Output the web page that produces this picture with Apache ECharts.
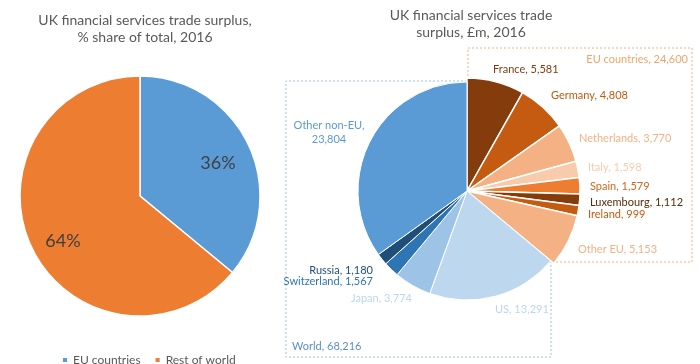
<!DOCTYPE html>
<html>
<head>
<meta charset="utf-8">
<script src="https://cdn.jsdelivr.net/npm/echarts@6/dist/echarts.min.js"></script>
<style>
html,body{margin:0;padding:0;background:#fff;}
#chart{width:700px;height:364px;}
</style>
</head>
<body>
<div id="chart"></div>
<script>
// ---- data ----
const leftCategories = ['EU countries', 'Rest of world'];
const leftShares = [36, 64];
const euCountries = ['France', 'Germany', 'Netherlands', 'Italy', 'Spain', 'Luxembourg', 'Ireland', 'Other EU'];
const euValues = [5581, 4808, 3770, 1598, 1579, 1112, 999, 5153];
const nonEuCountries = ['US', 'Japan', 'Switzerland', 'Russia', 'Other non-EU'];
const nonEuValues = [13291, 3774, 1567, 1180, 23804];
const leftTitle = 'UK financial services trade surplus,\n% share of total, 2016';
const rightTitle = 'UK financial services trade\nsurplus, £m, 2016';

// ---- styles ----
const FONT = 'Lato';
const leftColors = ['#5B9BD5', '#ED7D31'];
const euColors = ['#843C0C', '#C55A11', '#F4B183', '#F8CBAD', '#ED7D31', '#843C0C', '#C55A11', '#F4B183'];
const euLabelColors = ['#843C0C', '#C55A11', '#F4B183', '#F8CBAD', '#D0661C', '#5A2A0A', '#C55A11', '#F4B183'];
const nonEuColors = ['#BDD7EE', '#9DC3E6', '#2E75B6', '#1F4E79', '#5B9BD5'];
const nonEuLabelColors = ['#BDD7EE', '#BDD7EE', '#2E75B6', '#1F4E79', '#5B9BD5'];
// label anchor layout [x, y, align]
const leftLabelPos = [[218, 163], [63, 241]];
const euLabelPos = [[493, 69, 'left'], [551, 95, 'left'], [579, 138, 'left'], [588, 167, 'left'], [590, 186, 'left'], [590, 202, 'left'], [588, 214, 'left'], [578, 249, 'left']];
const nonEuLabelPos = [[495, 309, 'left'], [351, 298, 'left'], [373, 281, 'right'], [373, 270, 'right'], [329, 132, 'center']];

const fmt = v => v.toLocaleString('en-US');
const euTotal = euValues.reduce((a, b) => a + b, 0);
const nonEuTotal = nonEuValues.reduce((a, b) => a + b, 0);
const worldTotal = euTotal + nonEuTotal;

const chart = echarts.init(document.getElementById('chart'));

const hiddenItem = v => ({
  value: v, name: '__gap', itemStyle: { color: 'rgba(0,0,0,0)', borderWidth: 0 },
  label: { show: false }, labelLine: { show: false }, emphasis: { disabled: true }, tooltip: { show: false }
});

const euData = euCountries.map((n, i) => ({
  name: n, value: euValues[i], itemStyle: { color: euColors[i] },
  label: { color: euLabelColors[i] }
}));
euData.push(hiddenItem(nonEuTotal));

const nonEuData = [hiddenItem(euTotal)].concat(nonEuCountries.map((n, i) => ({
  name: n, value: nonEuValues[i], itemStyle: { color: nonEuColors[i] },
  label: { color: nonEuLabelColors[i] }
})));

const option = {
  animation: false,
  textStyle: { fontFamily: FONT },
  title: [
    { text: leftTitle, left: 140, top: 7, textAlign: 'center',
      textStyle: { fontFamily: FONT, fontSize: 14, fontWeight: 'normal', color: '#595959', lineHeight: 17, align: 'center' } },
    { text: rightTitle, left: 466, top: 2, textAlign: 'center',
      textStyle: { fontFamily: FONT, fontSize: 14, fontWeight: 'normal', color: '#595959', lineHeight: 17, align: 'center' } }
  ],
  legend: {
    data: leftCategories, left: 56, top: 349, icon: 'rect', itemWidth: 6, itemHeight: 6, itemGap: 13,
    textStyle: { fontFamily: FONT, fontSize: 12, color: '#595959' }, selectedMode: false
  },
  graphic: [
    { type: 'rect', z: -1, shape: { x: 468, y: 48, width: 224, height: 214 },
      style: { fill: 'none', stroke: '#F4B183', lineWidth: 1, lineDash: [2, 2] } },
    { type: 'polyline', z: -1, shape: { points: [[467, 81], [286, 81], [286, 357], [551, 357], [551, 262]] },
      style: { fill: 'none', stroke: '#9DC3E6', lineWidth: 1, lineDash: [2, 2] } },
    { type: 'text', x: 688, y: 59, style: { text: 'EU countries, ' + fmt(euTotal), fill: '#F0A468', font: '11px ' + FONT, align: 'right', verticalAlign: 'middle' } },
    { type: 'text', x: 292, y: 346, style: { text: 'World, ' + fmt(worldTotal), fill: '#5B8FC8', font: '11px ' + FONT, align: 'left', verticalAlign: 'middle' } }
  ],
  series: [
    {
      type: 'pie', center: [140, 196], radius: 120, startAngle: 90, avoidLabelOverlap: false,
      itemStyle: { borderColor: '#fff', borderWidth: 1.5 },
      label: { show: true, position: 'inside', formatter: p => p.value + '%', fontFamily: FONT, fontSize: 18, color: '#404040' },
      labelLine: { show: false },
      labelLayout: p => ({ x: leftLabelPos[p.dataIndex][0], y: leftLabelPos[p.dataIndex][1], align: 'center', verticalAlign: 'middle' }),
      data: leftCategories.map((n, i) => ({ name: n, value: leftShares[i], itemStyle: { color: leftColors[i] } }))
    },
    {
      type: 'pie', center: [467, 191], radius: 113, startAngle: 90, avoidLabelOverlap: false,
      itemStyle: { borderColor: '#fff', borderWidth: 1.5 },
      label: { show: true, position: 'outside', fontFamily: FONT, fontSize: 11,
        formatter: p => p.name + ', ' + fmt(p.value) },
      labelLine: { show: false },
      labelLayout: p => {
        const q = euLabelPos[p.dataIndex];
        return q ? { x: q[0], y: q[1], align: q[2], verticalAlign: 'middle' } : {};
      },
      data: euData
    },
    {
      type: 'pie', center: [467, 191], radius: 109, startAngle: 90, avoidLabelOverlap: false,
      itemStyle: { borderColor: '#fff', borderWidth: 1 },
      label: { show: true, position: 'outside', fontFamily: FONT, fontSize: 11, lineHeight: 14,
        formatter: p => p.name === 'Other non-EU' ? p.name + ',\n' + fmt(p.value) : p.name + ', ' + fmt(p.value) },
      labelLine: { show: false },
      labelLayout: p => {
        const q = nonEuLabelPos[p.dataIndex - 1];
        return q ? { x: q[0], y: q[1], align: q[2], verticalAlign: 'middle' } : {};
      },
      data: nonEuData
    }
  ]
};
chart.setOption(option);
</script>
</body>
</html>
